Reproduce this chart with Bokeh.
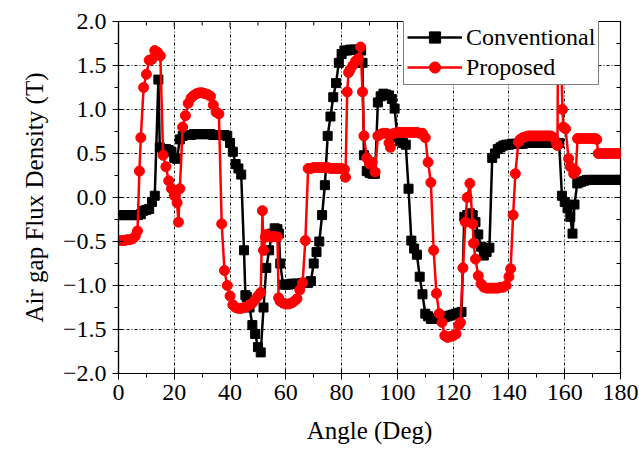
from bokeh.plotting import figure
from bokeh.models import Legend, LegendItem, FixedTicker, Range1d
from bokeh.embed import file_html
from bokeh.resources import INLINE

# ---------------- data ----------------
conv_angle = [0, 1, 2, 3, 4, 5, 6, 7, 8, 9, 10, 11, 12, 13, 14.3, 14.8, 16, 17, 18, 19, 20, 21,
              22, 23, 24, 25, 26, 27, 28, 29, 30, 31, 32, 33, 34, 35, 36, 37, 38, 39, 40, 41,
              42, 43, 44, 45, 45.5, 46, 47, 48, 49, 50, 51, 52, 53, 54, 55, 56, 57, 57.5, 58,
              59, 60, 61, 62, 63, 64, 65, 66, 67, 68, 69, 70, 71, 72, 73, 74, 75, 76, 77, 78,
              79, 80, 81, 82, 83, 84, 85, 86, 87, 87.5, 88, 89, 90, 91, 92, 93, 94, 95, 96, 97,
              98, 99, 100, 101, 102, 103, 104, 105, 106, 107, 108, 109, 110, 111, 112, 113,
              114, 115, 116, 117, 118, 119, 120, 121, 122, 123, 124, 125, 126, 127, 128, 129,
              130, 131, 132, 133, 134, 135, 136, 137, 138, 139, 140, 141, 142, 143, 144, 145,
              146, 147, 148, 149, 150, 151, 152, 153, 154, 155, 156, 157, 158, 159, 160, 161,
              162, 162.8, 163.5, 164.5, 165, 166, 167, 168, 169, 170, 171, 172, 173, 174, 175,
              176, 177, 178, 179, 180]
conv_flux = [-0.20, -0.20, -0.20, -0.20, -0.20, -0.20, -0.20, -0.20, -0.19, -0.15, -0.14, -0.13,
             -0.05, 0.02, 1.34, 0.57, 0.55, 0.55, 0.54, 0.52, 0.45, 0.44, 0.66, 0.70, 0.71,
             0.71, 0.71, 0.72, 0.72, 0.72, 0.72, 0.72, 0.72, 0.72, 0.71, 0.71, 0.71, 0.71,
             0.71, 0.70, 0.62, 0.52, 0.38, 0.33, 0.26, -0.60, -1.11, -1.13, -1.25, -1.45,
             -1.55, -1.70, -1.76, -1.25, -0.80, -0.60, -0.41, -0.35, -0.36, -0.41, -0.75,
             -0.99, -0.99, -0.99, -0.98, -0.98, -0.98, -0.98, -0.97, -0.97, -0.97, -0.95,
             -0.75, -0.62, -0.50, -0.20, 0.14, 0.70, 0.92, 1.14, 1.30, 1.53, 1.63, 1.67, 1.67,
             1.68, 1.68, 1.68, 1.68, 1.67, 1.53, 0.48, 0.30, 0.28, 0.27, 0.27, 1.08, 1.15,
             1.18, 1.17, 1.16, 1.12, 1.01, 0.68, 0.64, 0.62, 0.60, 0.10, -0.49, -0.58, -0.65,
             -0.90, -1.10, -1.32, -1.35, -1.38, -1.38, -1.37, -1.37, -1.36, -1.36, -1.35,
             -1.34, -1.33, -1.32, -1.31, -1.30, -0.22, -0.20, -0.18, -0.20, -0.28, -0.42,
             -0.56, -0.66, -0.62, -0.57, 0.45, 0.50, 0.55, 0.57, 0.59, 0.60, 0.60, 0.61, 0.61,
             0.61, 0.61, 0.61, 0.62, 0.62, 0.62, 0.62, 0.62, 0.62, 0.62, 0.62, 0.62, 0.62,
             0.62, 0.62, 0.62, 0.02, -0.05, -0.12, -0.22, -0.41, -0.08, 0.16, 0.17, 0.18,
             0.19, 0.20, 0.20, 0.20, 0.20, 0.20, 0.20, 0.20, 0.20, 0.20, 0.20, 0.20, 0.20,
             0.20, 0.20]

prop_angle = [0, 1, 2, 3, 4, 5, 6, 6.8, 7.5, 8, 9, 10, 11, 12, 13, 14, 15, 16, 17, 18, 19, 20,
              21, 21.5, 22, 23, 24, 25, 26, 27, 28, 29, 30, 31, 32, 33, 34, 35, 36, 37, 38, 39,
              40, 41, 42, 43, 44, 45, 46, 47, 48, 49, 50, 51, 51.6, 52, 52.7, 53, 54, 55, 56,
              57, 57.4, 58, 59, 60, 61, 62, 63, 64, 65, 66, 67, 68, 69, 70, 71, 72, 73, 74, 75,
              76, 77, 78, 79, 80, 81, 81.4, 82, 82.5, 83, 84, 85, 86, 86.8, 87.5, 88, 89, 90,
              91, 92, 93, 94, 95, 96, 97, 97.5, 98, 99, 100, 101, 102, 103, 104, 105, 106, 107,
              108, 109, 110, 111, 112, 113, 114, 115, 116, 117, 118, 119, 120, 121, 122, 122.6,
              123.5, 124.4, 125, 126, 127, 127.3, 128, 129, 130, 131, 132, 133, 134, 135, 136,
              137, 138, 139, 140, 140.6, 141.5, 142.3, 143.4, 144, 145, 146, 147, 148, 149,
              150, 151, 152, 153, 154, 155, 156, 157, 157.4, 157.6, 158.5, 159.2, 159.5, 160.3,
              161.4, 162, 163.2, 164, 164.6, 165, 166, 167, 168, 169, 170, 171, 171.5, 172,
              173, 174, 175, 176, 177, 178, 179, 180]
prop_flux = [-0.49, -0.49, -0.49, -0.48, -0.48, -0.47, -0.44, -0.38, 0.30, 0.68, 1.25, 1.40,
             1.56, 1.57, 1.67, 1.65, 1.61, 0.48, 0.35, 0.19, 0.10, 0.02, -0.06, -0.28, 0.10,
             0.80, 0.93, 1.07, 1.13, 1.16, 1.18, 1.19, 1.19, 1.18, 1.17, 1.15, 1.05, 0.97,
             0.95, -0.30, -0.83, -1.00, -1.12, -1.22, -1.25, -1.26, -1.26, -1.25, -1.24,
             -1.22, -1.20, -1.16, -1.12, -1.08, -0.15, -0.60, -0.45, -0.42, -0.44, -0.45,
             -0.44, -0.45, -1.14, -1.18, -1.20, -1.21, -1.21, -1.20, -1.18, -1.15, -1.05,
             -0.97, -0.49, 0.33, 0.33, 0.34, 0.34, 0.34, 0.34, 0.34, 0.34, 0.33, 0.33, 0.33,
             0.33, 0.33, 0.32, 0.23, 1.20, 1.42, 1.45, 1.50, 1.55, 1.58, 1.71, 1.20, 0.70,
             0.45, 0.38, 0.40, 0.29, 0.70, 0.72, 0.73, 0.73, 0.62, 0.57, 0.72, 0.73, 0.74,
             0.74, 0.74, 0.74, 0.74, 0.74, 0.74, 0.74, 0.73, 0.73, 0.68, 0.40, 0.17, -0.60,
             -1.09, -1.32, -1.42, -1.57, -1.59, -1.58, -1.57, -1.55, -1.45, -1.42, -0.80,
             -0.28, 0.00, 0.16, -0.30, -0.52, -0.70, -0.89, -0.98, -1.02, -1.03, -1.03, -1.03,
             -1.03, -1.03, -1.02, -1.02, -1.00, -0.90, -0.81, -0.20, 0.27, 0.63, 0.66, 0.68,
             0.69, 0.70, 0.70, 0.70, 0.70, 0.70, 0.70, 0.70, 0.70, 0.70, 0.68, 0.62, 0.59,
             1.90, 1.85, 1.00, 0.80, 0.78, 0.44, 0.35, 0.27, 0.30, 0.67, 0.67, 0.67, 0.67,
             0.67, 0.67, 0.67, 0.67, 0.66, 0.50, 0.50, 0.50, 0.50, 0.50, 0.50, 0.50, 0.50, 0.50]

series_names = ["Conventional", "Proposed"]
x_ticks = [0, 20, 40, 60, 80, 100, 120, 140, 160, 180]
x_minor = [10, 30, 50, 70, 90, 110, 130, 150, 170]
x_tick_labels = ["0", "20", "40", "60", "80", "100", "120", "140", "160", "180"]
y_ticks = [-2.0, -1.5, -1.0, -0.5, 0.0, 0.5, 1.0, 1.5, 2.0]
y_minor = [-1.75, -1.25, -0.75, -0.25, 0.25, 0.75, 1.25, 1.75]
y_tick_labels = ["\u22122.0", "\u22121.5", "\u22121.0", "\u22120.5", "0.0", "0.5", "1.0", "1.5", "2.0"]
x_label = "Angle (Deg)"
y_label = "Air gap Flux Density (T)"

X_MIN, X_MAX, Y_MIN, Y_MAX = 0, 180, -2, 2

# ---------------- figure ----------------
FONT = "Liberation Serif"
p = figure(width=639, height=452, x_range=Range1d(X_MIN, X_MAX), y_range=Range1d(Y_MIN, Y_MAX),
           output_backend="svg", toolbar_location=None,
           min_border_left=118, min_border_right=19, min_border_top=21, min_border_bottom=79)
p.background_fill_color = "white"
p.border_fill_color = "white"
p.outline_line_color = "black"
p.outline_line_width = 1.2
p.outline_line_alpha = 1

p.xaxis.ticker = FixedTicker(ticks=x_ticks, minor_ticks=x_minor)
p.yaxis.ticker = FixedTicker(ticks=y_ticks, minor_ticks=y_minor)
p.xaxis.major_label_overrides = {t: s for t, s in zip(x_ticks, x_tick_labels)}
p.yaxis.major_label_overrides = {t: s for t, s in zip(y_ticks, y_tick_labels)}
p.xaxis.axis_label = x_label
p.yaxis.axis_label = y_label

for ax in (p.xaxis[0], p.yaxis[0]):
    ax.axis_line_color = "black"
    ax.axis_line_width = 1.2
    ax.major_tick_line_color = "black"
    ax.minor_tick_line_color = "black"
    ax.major_tick_in = 5
    ax.major_tick_out = 6
    ax.minor_tick_in = 0
    ax.minor_tick_out = 4
    ax.major_label_text_font = FONT
    ax.major_label_text_font_size = "24px"
    ax.major_label_text_color = "black"
    ax.axis_label_text_font = FONT
    ax.axis_label_text_font_size = "25px"
    ax.axis_label_text_font_style = "normal"
    ax.axis_label_text_color = "black"
p.xaxis.major_label_standoff = 5
p.yaxis.major_label_standoff = 6
p.xaxis.axis_label_standoff = 14
p.yaxis.axis_label_standoff = 12

for g in (p.xgrid[0], p.ygrid[0]):
    g.grid_line_color = "black"
    g.grid_line_dash = "3 2 1 2"
    g.grid_line_width = 1
    g.grid_line_alpha = 0.9

# inward ticks on the top and right edges of the frame (mirrors of the main axes)
px_per_x = (X_MAX - X_MIN) / 502.0
px_per_y = (Y_MAX - Y_MIN) / 352.0
p.segment(x0=x_ticks, y0=[Y_MAX] * len(x_ticks), x1=x_ticks,
          y1=[Y_MAX - 6 * px_per_y] * len(x_ticks), line_color="black", line_width=1)
p.segment(x0=x_minor, y0=[Y_MAX] * len(x_minor), x1=x_minor,
          y1=[Y_MAX - 4 * px_per_y] * len(x_minor), line_color="black", line_width=1)
p.segment(x0=[X_MAX] * len(y_ticks), y0=y_ticks, x1=[X_MAX - 6 * px_per_x] * len(y_ticks),
          y1=y_ticks, line_color="black", line_width=1)
p.segment(x0=[X_MAX] * len(y_minor), y0=y_minor, x1=[X_MAX - 4 * px_per_x] * len(y_minor),
          y1=y_minor, line_color="black", line_width=1)

# ---------------- series ----------------
l1 = p.line(conv_angle, conv_flux, line_color="black", line_width=2.5)
s1 = p.scatter(conv_angle, conv_flux, marker="square", size=9, fill_color="black", line_color="black")
l2 = p.line(prop_angle, prop_flux, line_color="red", line_width=2.5)
s2 = p.scatter(prop_angle, prop_flux, marker="circle", size=10, fill_color="red", line_color="red")

legend = Legend(items=[LegendItem(label=series_names[0], renderers=[l1, s1]),
                       LegendItem(label=series_names[1], renderers=[l2, s2])],
                location=(285, 288))
legend.border_line_color = "black"
legend.border_line_width = 1
legend.background_fill_color = "white"
legend.background_fill_alpha = 1
legend.label_text_font = FONT
legend.label_text_font_size = "24px"
legend.label_text_color = "black"
legend.glyph_width = 55
legend.glyph_height = 28
legend.label_height = 28
legend.label_standoff = 4
legend.padding = 3
legend.spacing = 2
legend.margin = 0
p.add_layout(legend)

open("out.html", "w").write(file_html(p, INLINE))
